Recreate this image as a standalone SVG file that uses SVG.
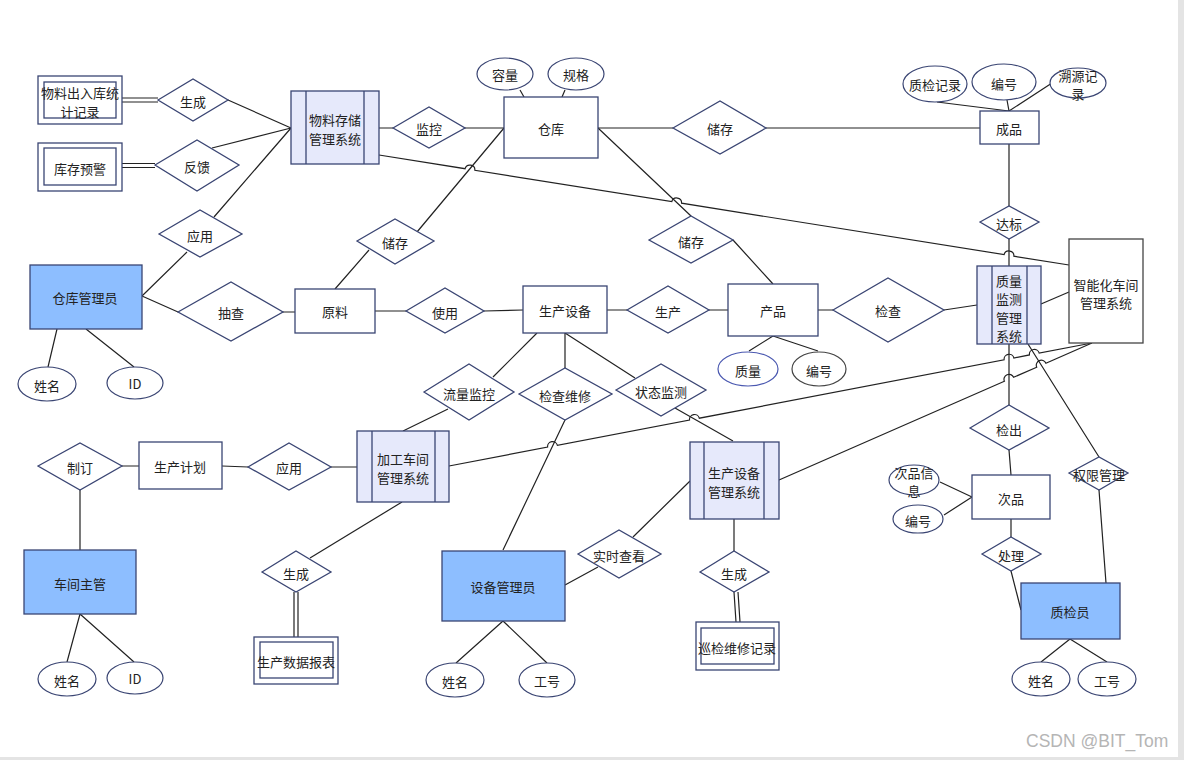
<svg xmlns="http://www.w3.org/2000/svg" width="1184" height="760" viewBox="0 0 1184 760">
<style>
text{font-family:"Noto Sans CJK SC","Noto Sans",sans-serif;font-size:13px;fill:#222;text-anchor:middle;dominant-baseline:central}
.e{fill:#fff;stroke:#3A4573;stroke-width:1.3}
.ent{fill:#8DBEFF;stroke:#3A4573;stroke-width:1.3}
.sys{fill:#E6E9FB;stroke:#3A4573;stroke-width:1.3}
.rel{fill:#fff;stroke:#3A4573;stroke-width:1.3}
.att{fill:#fff;stroke:#3A4573;stroke-width:1.2}
.c{fill:none;stroke:#222;stroke-width:1.2}
.wm{font-family:"Liberation Sans",sans-serif;font-size:17.5px;fill:#b5b5b5;text-anchor:start}
</style>
<rect width="1184" height="760" fill="#fff"/>
<rect x="1178" y="0" width="6" height="760" fill="#e4e4e4"/>
<rect x="0" y="757" width="1184" height="3" fill="#e4e4e4"/>

<g id="connectors">
<path class="c" d="M122,98 L158,98 M122,102 L158,102"/>
<path class="c" d="M122,163.5 L155,163.5 M122,167.5 L155,167.5"/>
<path class="c" d="M228,100 L291,128 M212,148 L291,128 M214,217 L291,128"/>
<path class="c" d="M142,296 L187,252 M142,296 L178,312 M283,312 L295,312"/>
<path class="c" d="M57,329 L48,367 M86,329 L134,367"/>
<path class="c" d="M335,289 L369,250 M417,232 L504,128"/>
<path class="c" d="M379,128 L393,128 M465,128 L504,128"/>
<path class="c" d="M520,90 L524,97 M565,90 L562,97"/>
<path class="c" d="M598,128 L673,128 M766,128 L980,128"/>
<path class="c" d="M937,102 L1009,111 M1007,100 L1009,111 M1052,83 L1009,111"/>
<path class="c" d="M1009,144 L1009,206 M1009,239 L1009,266"/>
<path class="c" d="M1041,304 L1069,292"/>
<path class="c" d="M379,155 L465.1,168.7 A5,5 0 0 1 474.9,170.3 L671.8,201.6 A5,5 0 0 1 681.6,203.2 L1004.1,254.6 A5,5 0 0 1 1013.9,256.2 L1069,265"/>
<path class="c" d="M598,128 L691,216 M733,240 L773,284"/>
<path class="c" d="M773,336 L749,351 M773,336 L818,351"/>
<path class="c" d="M818,310 L833,310 M944,310 L977,305"/>
<path class="c" d="M607,310 L627,310 M709,310 L728,310"/>
<path class="c" d="M375,311 L406,311 M484,311 L523,310"/>
<path class="c" d="M537,333 L493,377 M448,409 L403,431"/>
<path class="c" d="M565,333 L565,368 M565,420 L503,550"/>
<path class="c" d="M565,333 L635,378 M675,408 L733,441"/>
<path class="c" d="M449,466 L547.6,447.1 A5,5 0 0 1 557.4,445.3 L689.5,420 A5,5 0 0 1 699.3,418.2 L1004.1,359.8 A5,5 0 0 1 1013.9,358 L1029.4,354.9 A5,5 0 0 1 1039.2,353.1 L1092,343"/>
<path class="c" d="M779,480 L1004.4,381.3 A5,5 0 0 1 1013.6,377.3 L1036.7,367.2 A5,5 0 0 1 1045.9,363.2 L1092,343"/>
<path class="c" d="M734,519 L734,551"/>
<path class="c" d="M734,592 L736,622 M738,592 L740,622"/>
<path class="c" d="M690,481 L633,537 M598,567 L565,585"/>
<path class="c" d="M503,621 L456,663 M503,621 L547,663"/>
<path class="c" d="M402,502 L310,558"/>
<path class="c" d="M294,592 L294,637 M298,592 L298,637"/>
<path class="c" d="M222,466 L248,467 M331,467 L357,467"/>
<path class="c" d="M122,466 L139,466 M80,490 L80,550"/>
<path class="c" d="M80,614 L67,662 M80,614 L134,662"/>
<path class="c" d="M1009,344 L1009,405 M1009,450 L1011,475"/>
<path class="c" d="M940,482 L972,497 M944,515 L972,497"/>
<path class="c" d="M1011,519 L1011,537 M1011,571 L1021,610"/>
<path class="c" d="M1070,639 L1041,662 M1070,639 L1107,662"/>
<path class="c" d="M1028,344 L1099,457 M1099,490 L1106,583"/>
</g>

<g id="n-churuku"><rect class="e" x="38" y="76" width="84" height="48"/><rect class="e" x="44" y="82" width="72" height="36"/><text x="80" y="92">物料出入库统</text><text x="80" y="111">计记录</text></g>
<g id="n-yujing"><rect class="e" x="38" y="143" width="84" height="48"/><rect class="e" x="44" y="148" width="72" height="37"/><text x="80" y="168">库存预警</text></g>
<g id="r-shengcheng1"><polygon class="rel" points="158,100 193,79 228,100 193,121"/><text x="193" y="101">生成</text></g>
<g id="r-fankui"><polygon class="rel" points="155,165 197,140 239,165 197,191"/><text x="197" y="166">反馈</text></g>
<g id="n-wuliao-sys"><rect class="sys" x="291" y="91" width="88" height="73"/><path class="sys" d="M306,91 V164 M364,91 V164"/><text x="335" y="119">物料存储</text><text x="335" y="138">管理系统</text></g>
<g id="r-yingyong1"><polygon class="rel" points="159,234 200,210 242,234 200,257"/><text x="200" y="235">应用</text></g>
<g id="n-cangkuguanli"><rect class="ent" x="30" y="265" width="112" height="64"/><text x="85" y="297">仓库管理员</text></g>
<g id="a-ck-name"><ellipse class="att" cx="47" cy="384" rx="29" ry="17"/><text x="47" y="385">姓名</text></g>
<g id="a-ck-id"><ellipse class="att" cx="135" cy="383" rx="28" ry="16"/><text x="135" y="383">ID</text></g>
<g id="r-chouzha"><polygon class="rel" points="178,312 231,282 283,312 231,341"/><text x="231" y="312">抽查</text></g>
<g id="n-yuanliao"><rect class="e" x="295" y="289" width="80" height="44"/><text x="335" y="311">原料</text></g>
<g id="r-chucun1"><polygon class="rel" points="357,241 395,219 434,241 395,264"/><text x="395" y="242">储存</text></g>
<g id="r-jiankong"><polygon class="rel" points="393,128 429,107 465,128 429,148"/><text x="429" y="128">监控</text></g>
<g id="n-cangku"><rect class="e" x="504" y="97" width="94" height="61"/><text x="551" y="128">仓库</text></g>
<g id="a-rongliang"><ellipse class="att" cx="505" cy="74" rx="28" ry="16"/><text x="505" y="74">容量</text></g>
<g id="a-guige"><ellipse class="att" cx="576" cy="74" rx="28" ry="16"/><text x="576" y="74">规格</text></g>
<g id="r-chucun2"><polygon class="rel" points="673,128 720,101 766,128 720,154"/><text x="720" y="128">储存</text></g>
<g id="n-chengpin"><rect class="e" x="980" y="111" width="59" height="33"/><text x="1009" y="128">成品</text></g>
<g id="a-zhijianjilu"><ellipse class="att" cx="935" cy="84" rx="32" ry="18"/><text x="935" y="84">质检记录</text></g>
<g id="a-cp-bianhao"><ellipse class="att" cx="1004" cy="82" rx="32" ry="18"/><text x="1004" y="83">编号</text></g>
<g id="a-suyuan"><ellipse class="att" cx="1078" cy="83" rx="28" ry="15"/><text x="1078" y="75">溯源记</text><text x="1078" y="93">录</text></g>
<g id="r-dabiao"><polygon class="rel" points="980,222 1009,206 1039,222 1009,239"/><text x="1009" y="223">达标</text></g>
<g id="n-zhiliang-sys"><rect class="sys" x="977" y="266" width="64" height="78"/><path class="sys" d="M992,266 V344 M1027,266 V344"/><text x="1009" y="280">质量</text><text x="1009" y="298">监测</text><text x="1009" y="317">管理</text><text x="1009" y="335">系统</text></g>
<g id="n-zhineng"><rect x="1069" y="239" width="74" height="104" fill="#fff" stroke="#444" stroke-width="1.3"/><text x="1106" y="284">智能化车间</text><text x="1106" y="302">管理系统</text></g>
<g id="r-chucun3"><polygon class="rel" points="649,240 691,216 733,240 691,263"/><text x="691" y="241">储存</text></g>
<g id="n-chanpin"><rect class="e" x="728" y="284" width="90" height="52"/><text x="773" y="310">产品</text></g>
<g id="a-zhiliang"><ellipse cx="748" cy="369" rx="30" ry="17" fill="#fff" stroke="#4A58B0" stroke-width="1.2"/><text x="748" y="370">质量</text></g>
<g id="a-cpin-bianhao"><ellipse cx="819" cy="369" rx="27" ry="17" fill="#fff" stroke="#444" stroke-width="1.2"/><text x="819" y="370">编号</text></g>
<g id="r-jiancha"><polygon class="rel" points="833,310 888,278 944,310 888,342"/><text x="888" y="310">检查</text></g>
<g id="r-shengchan"><polygon class="rel" points="627,310 668,286 709,310 668,333"/><text x="668" y="311">生产</text></g>
<g id="n-shebei"><rect class="e" x="523" y="286" width="84" height="47"/><text x="565" y="310">生产设备</text></g>
<g id="r-shiyong"><polygon class="rel" points="406,311 445,288 484,311 445,333"/><text x="445" y="312">使用</text></g>
<g id="r-liuliang"><polygon class="rel" points="424,392 469,364 514,392 469,420"/><text x="469" y="393">流量监控</text></g>
<g id="r-jianchaweixiu"><polygon class="rel" points="519,394 565,368 612,394 565,420"/><text x="565" y="395">检查维修</text></g>
<g id="r-zhuangtai"><polygon class="rel" points="616,390 661,364 706,390 661,416"/><text x="661" y="391">状态监测</text></g>
<g id="n-jiagong-sys"><rect class="sys" x="357" y="431" width="92" height="71"/><path class="sys" d="M372,431 V502 M435,431 V502"/><text x="403" y="458">加工车间</text><text x="403" y="477">管理系统</text></g>
<g id="n-shebei-sys"><rect class="sys" x="690" y="442" width="89" height="77"/><path class="sys" d="M704,442 V519 M764,442 V519"/><text x="734" y="472">生产设备</text><text x="734" y="491">管理系统</text></g>
<g id="r-shengcheng3"><polygon class="rel" points="700,572 734,551 769,572 734,592"/><text x="734" y="573">生成</text></g>
<g id="n-xunjian"><rect class="e" x="696" y="622" width="83" height="48"/><rect class="e" x="701" y="628" width="73" height="36"/><text x="737" y="647">巡检维修记录</text></g>
<g id="r-shishi"><polygon class="rel" points="578,554 619,530 661,554 619,578"/><text x="619" y="555">实时查看</text></g>
<g id="n-shebeiguanli"><rect class="ent" x="442" y="551" width="123" height="70"/><text x="503" y="586">设备管理员</text></g>
<g id="a-sb-name"><ellipse class="att" cx="455" cy="680" rx="29" ry="17"/><text x="455" y="681">姓名</text></g>
<g id="a-sb-gonghao"><ellipse class="att" cx="547" cy="680" rx="28" ry="17"/><text x="547" y="680">工号</text></g>
<g id="r-shengcheng2"><polygon class="rel" points="262,572 296,551 331,572 296,592"/><text x="296" y="573">生成</text></g>
<g id="n-baobiao"><rect class="e" x="254" y="637" width="84" height="47"/><rect class="e" x="260" y="642" width="73" height="36"/><text x="296" y="661">生产数据报表</text></g>
<g id="r-yingyong2"><polygon class="rel" points="248,467 289,443 331,467 289,490"/><text x="289" y="467">应用</text></g>
<g id="n-jihua"><rect class="e" x="139" y="442" width="83" height="47"/><text x="180" y="466">生产计划</text></g>
<g id="r-zhiding"><polygon class="rel" points="38,466 80,443 122,466 80,490"/><text x="80" y="467">制订</text></g>
<g id="n-zhuguan"><rect class="ent" x="24" y="550" width="112" height="64"/><text x="80" y="583">车间主管</text></g>
<g id="a-zg-name"><ellipse class="att" cx="67" cy="679" rx="29" ry="17"/><text x="67" y="680">姓名</text></g>
<g id="a-zg-id"><ellipse class="att" cx="135" cy="678" rx="28" ry="16"/><text x="135" y="678">ID</text></g>
<g id="r-jianchu"><polygon class="rel" points="970,428 1009,405 1049,428 1009,450"/><text x="1009" y="429">检出</text></g>
<g id="n-cipin"><rect class="e" x="972" y="475" width="78" height="44"/><text x="1011" y="498">次品</text></g>
<g id="a-cipinxinxi"><ellipse class="att" cx="914" cy="480" rx="25" ry="15"/><text x="914" y="472">次品信</text><text x="914" y="490">息</text></g>
<g id="a-cipin-bianhao"><ellipse class="att" cx="918" cy="519" rx="25" ry="14"/><text x="918" y="520">编号</text></g>
<g id="r-chuli"><polygon class="rel" points="982,554 1011,537 1041,554 1011,571"/><text x="1011" y="555">处理</text></g>
<g id="n-zhijianyuan"><rect class="ent" x="1021" y="583" width="99" height="56"/><text x="1070" y="611">质检员</text></g>
<g id="a-zj-name"><ellipse class="att" cx="1041" cy="679" rx="29" ry="17"/><text x="1041" y="680">姓名</text></g>
<g id="a-zj-gonghao"><ellipse class="att" cx="1107" cy="679" rx="29" ry="17"/><text x="1107" y="680">工号</text></g>
<g id="r-quanxian"><polygon class="rel" points="1069,473 1099,457 1128,473 1099,490"/><text x="1099" y="474">权限管理</text></g>
<text class="wm" x="1026" y="741">CSDN @BIT_Tom</text>
</svg>
